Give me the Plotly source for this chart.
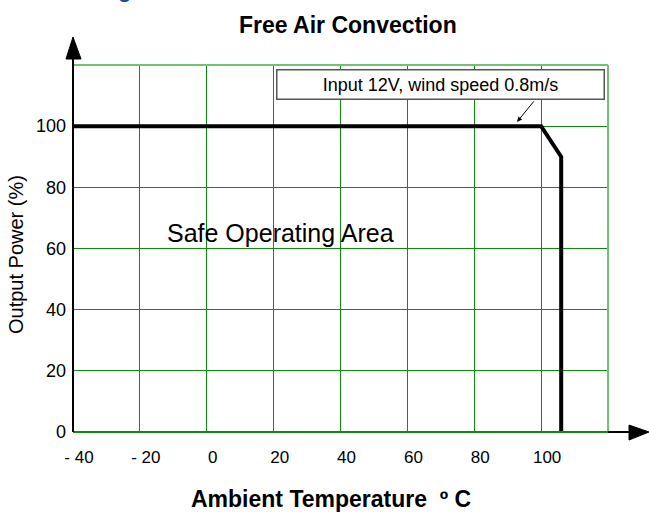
import plotly.graph_objects as go

# ---- data ----
temp_c = [-40, 100, 106, 106]
output_pct = [100, 100, 90, 0]

x_tick_vals = [-40, -20, 0, 20, 40, 60, 80, 100, 120]
x_tick_text = ["- 40", "- 20", "0", "20", "40", "60", "80", "100", ""]
y_tick_vals = [0, 20, 40, 60, 80, 100, 120]
y_tick_text = ["0", "20", "40", "60", "80", "100", ""]

title_text = "Free Air Convection"
x_title = "Ambient Temperature  º C"
y_title = "Output Power (%)"
note_text = "Input 12V, wind speed 0.8m/s"
area_text = "Safe Operating Area"

FONT = "Liberation Sans, Arial, Helvetica, sans-serif"
GRID = "#0c8c0c"
BORDER = "#72c272"

fig = go.Figure()
fig.add_trace(go.Scatter(
    x=temp_c, y=output_pct, mode="lines",
    line=dict(color="black", width=4),
    showlegend=False, hoverinfo="skip", cliponaxis=False,
))

fig.update_layout(
    width=649, height=512,
    margin=dict(l=73, r=41, t=65, b=80),
    paper_bgcolor="white", plot_bgcolor="white",
    font=dict(family=FONT, color="black"),
    showlegend=False,
    xaxis=dict(
        range=[-40, 120], tickmode="array", tickvals=x_tick_vals, ticktext=x_tick_text,
        showgrid=True, gridcolor=GRID, gridwidth=1, zeroline=False, showline=False,
        ticks="", tickfont=dict(size=17, family=FONT, color="black"),
        ticklabelstandoff=13, ticklabelshift=6,
    ),
    yaxis=dict(
        range=[0, 120], tickmode="array", tickvals=y_tick_vals, ticktext=y_tick_text,
        showgrid=True, gridcolor=GRID, gridwidth=1, zeroline=False, showline=False,
        ticks="", tickfont=dict(size=18, family=FONT, color="black"),
        ticklabelstandoff=6,
    ),
)

shapes = [
    dict(type="line", xref="paper", yref="paper", x0=0, x1=1, y0=1, y1=1,
         line=dict(color=BORDER, width=2)),
    dict(type="line", xref="paper", yref="paper", x0=1, x1=1, y0=0, y1=1,
         line=dict(color=BORDER, width=2)),
    dict(type="line", xref="paper", yref="paper", x0=0, x1=1, y0=0, y1=0,
         line=dict(color=GRID, width=2)),
    dict(type="line", xref="paper", yref="paper", x0=1, x1=1.04, y0=0, y1=0,
         line=dict(color="black", width=2)),
    dict(type="line", xref="paper", yref="paper", x0=0, x1=0, y0=0, y1=1.017,
         line=dict(color="black", width=2)),
    dict(type="path", xref="paper", yref="paper",
         path="M -0.0131 1.0163 L 0.0150 1.0163 L 0 1.0763 Z",
         fillcolor="black", line=dict(color="black", width=1)),
    dict(type="path", xref="paper", yref="paper",
         path="M 1.0393 0.0190 L 1.0766 0 L 1.0393 -0.0218 Z",
         fillcolor="black", line=dict(color="black", width=1)),
]
fig.update_layout(shapes=shapes)

annotations = [
    dict(text="<b>" + title_text + "</b>", xref="paper", yref="paper",
         x=(348 - 73) / 535, y=(432 - 25) / 367, xanchor="center", yanchor="middle",
         showarrow=False, font=dict(size=23, family=FONT, color="black")),
    dict(text="<b>" + x_title + "</b>", xref="paper", yref="paper",
         x=(331 - 73) / 535, y=(432 - 499) / 367, xanchor="center", yanchor="middle",
         showarrow=False, font=dict(size=23, family=FONT, color="black")),
    dict(text=y_title, xref="paper", yref="paper", textangle=-90,
         x=(16 - 73) / 535, y=(432 - 255) / 367, xanchor="center", yanchor="middle",
         showarrow=False, font=dict(size=20, family=FONT, color="black")),
    dict(text=area_text, x=22, y=65, xref="x", yref="y",
         xanchor="center", yanchor="middle", showarrow=False,
         font=dict(size=25, family=FONT, color="black")),
    dict(text=note_text, xref="paper", yref="paper",
         x=(440.5 - 73) / 535, y=(432 - 84.5) / 367, xanchor="center", yanchor="middle",
         showarrow=False, width=322, height=24, borderpad=2, borderwidth=1.5,
         bordercolor="#555555", bgcolor="white",
         font=dict(size=18, family=FONT, color="black")),
    dict(text="", x=92.8, y=101.4, xref="x", yref="y", showarrow=True,
         ax=18, ay=-22, arrowhead=2, arrowsize=1, arrowwidth=1, arrowcolor="black"),
    dict(text="<b>g</b>", xref="paper", yref="paper",
         x=(124 - 73) / 535, y=(432 + 11) / 367, xanchor="center", yanchor="middle",
         showarrow=False, font=dict(size=22, family=FONT, color="#1f4f8f")),
]
fig.update_layout(annotations=annotations)

fig.write_html("out.html", config={"displayModeBar": False},
               post_script="document.body.style.margin='0';document.body.style.padding='0';")
